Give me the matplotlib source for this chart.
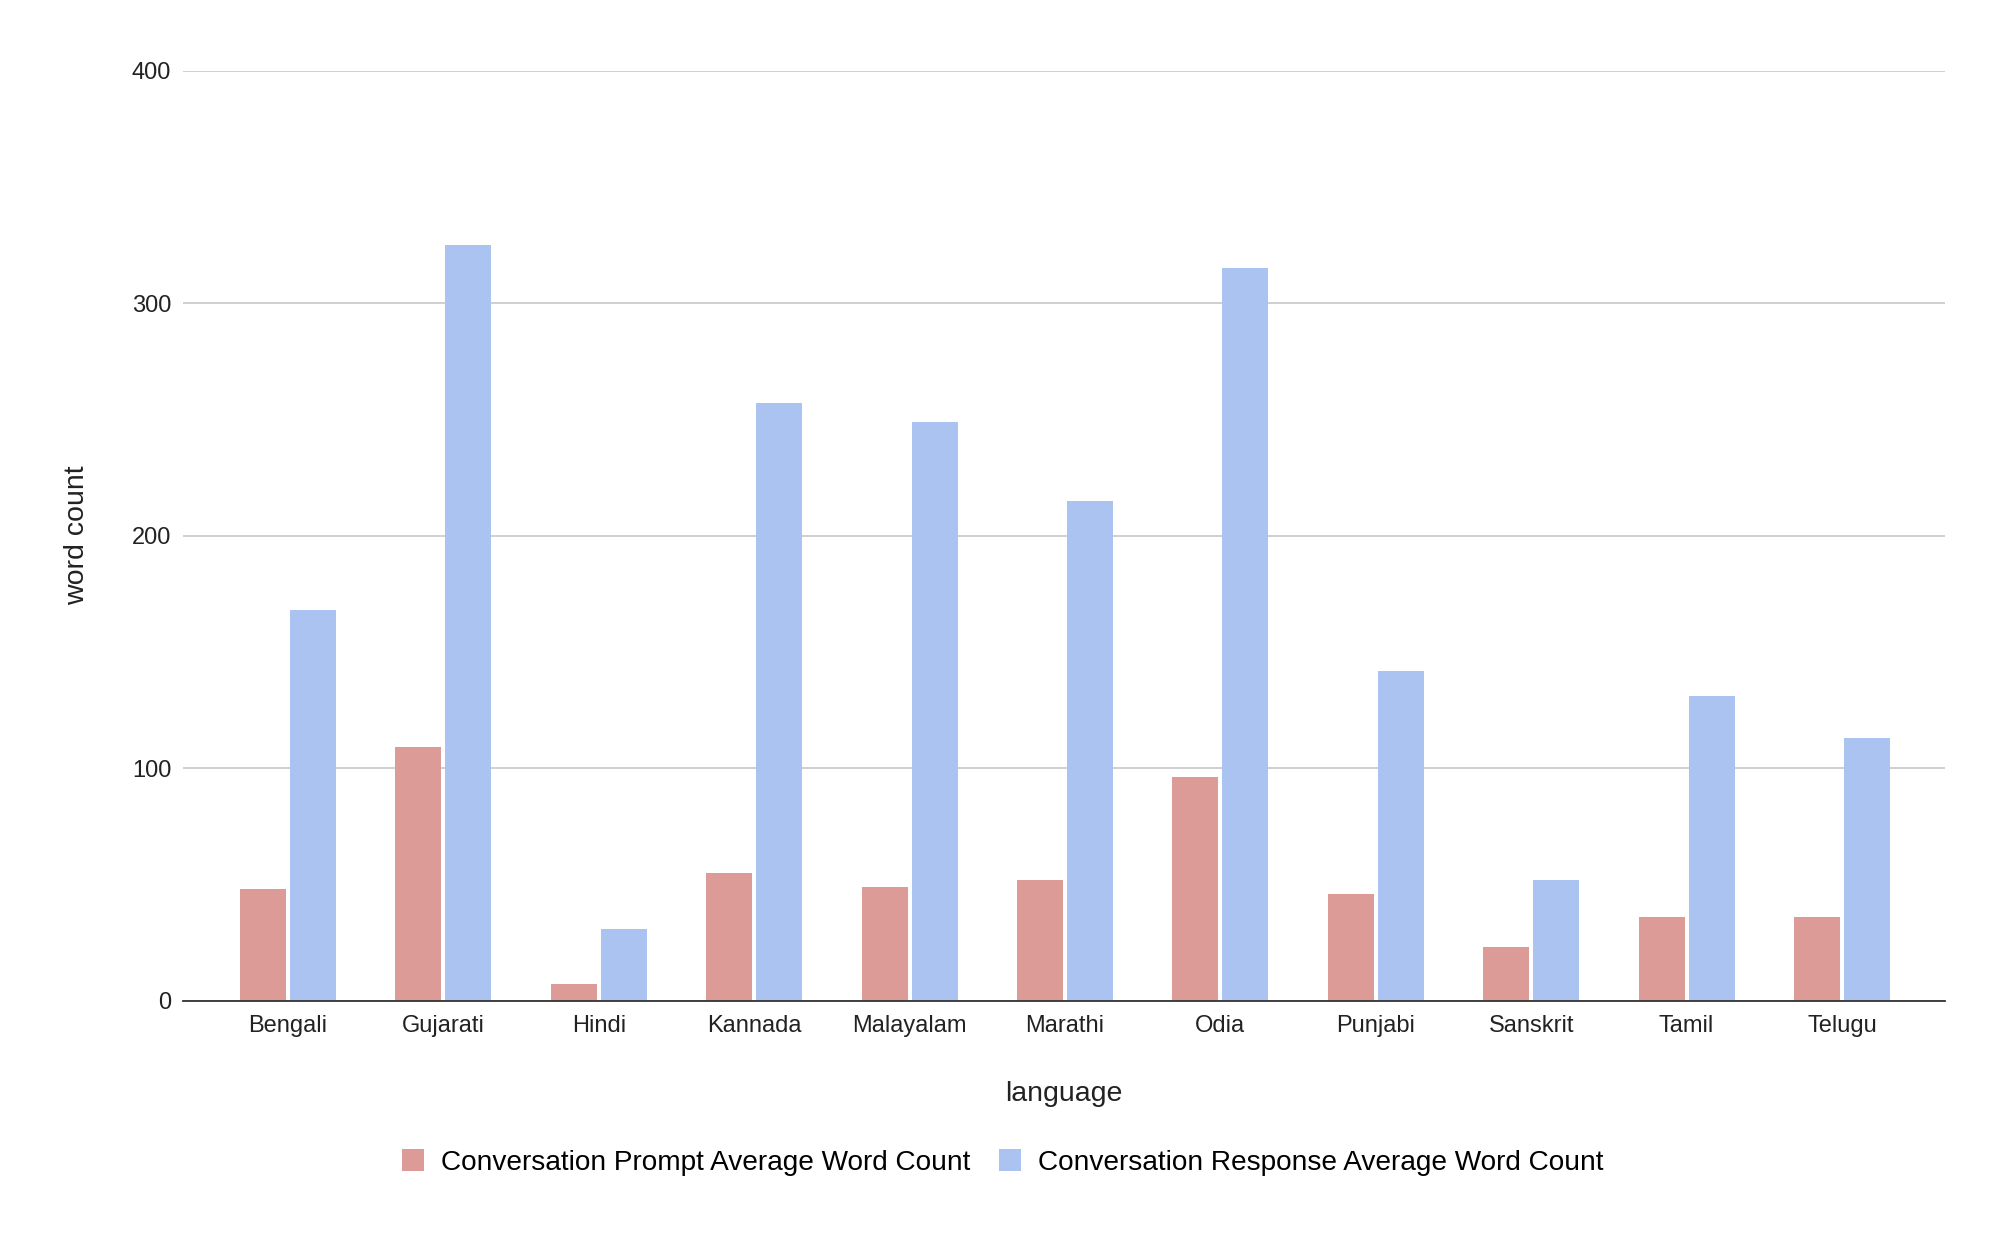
import matplotlib
matplotlib.use("Agg")
import matplotlib.pyplot as plt
import numpy as np

languages = ["Bengali", "Gujarati", "Hindi", "Kannada", "Malayalam", "Marathi",
             "Odia", "Punjabi", "Sanskrit", "Tamil", "Telugu"]
prompt_avg = [48, 109, 7, 55, 49, 52, 96, 46, 23, 36, 36]
response_avg = [168, 325, 31, 257, 249, 215, 315, 142, 52, 131, 113]
yticks = [0, 100, 200, 300, 400]

plt.rcParams['font.family'] = ['Liberation Sans', 'DejaVu Sans']

fig = plt.figure(figsize=(20.06, 12.38), dpi=100)
ax = fig.add_axes([0.0912, 0.1917, 0.8784, 0.7512])

x = np.arange(len(languages))
w = 0.296
off = 0.161
ax.bar(x - off, prompt_avg, w, color="#dd9b98", label="Conversation Prompt Average Word Count", zorder=3)
ax.bar(x + off, response_avg, w, color="#abc3f0", label="Conversation Response Average Word Count", zorder=3)

ax.set_xlim(-0.676, len(languages) - 1 + 0.663)
ax.set_ylim(0, 400)
ax.set_yticks(yticks)
ax.set_yticklabels([str(t) for t in yticks], fontsize=17)
ax.set_xticks(x)
ax.set_xticklabels(languages, fontsize=17)
ax.tick_params(axis='both', length=0, colors="#222222")
ax.tick_params(axis='x', pad=10)
ax.tick_params(axis='y', pad=8.5)
ax.grid(axis='y', color="#cccccc", linewidth=1.3, zorder=0)
for s in ['top', 'right', 'left']:
    ax.spines[s].set_visible(False)
ax.spines['bottom'].set_color("#333333")
ax.spines['bottom'].set_linewidth(1.3)
ax.spines['bottom'].set_zorder(4)

ax.set_xlabel("language", fontsize=20.5, labelpad=32, color="#222222")
ax.set_ylabel("word count", fontsize=20.5, labelpad=30, color="#222222")

fig.legend(loc='center', bbox_to_anchor=(0.4998, 0.061), ncol=2, frameon=False,
           fontsize=20.2, handlelength=0.8, handleheight=0.8, handletextpad=0.6,
           columnspacing=1.0)

fig.savefig("out.png", dpi=100, facecolor="white")
